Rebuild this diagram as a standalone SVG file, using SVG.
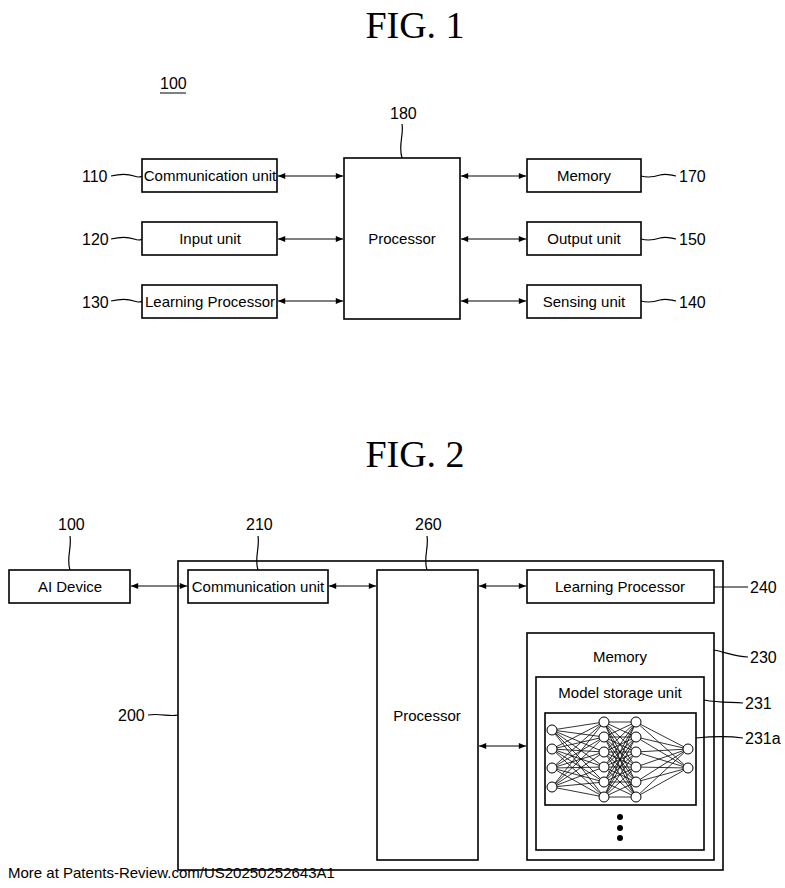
<svg xmlns="http://www.w3.org/2000/svg" width="785" height="888" viewBox="0 0 785 888">
<style>
.b{fill:#fff;stroke:#000;stroke-width:1.6}
.t{font-family:"Liberation Sans",sans-serif;font-size:15px;text-anchor:middle;fill:#000}
.n{font-family:"Liberation Sans",sans-serif;font-size:16px;fill:#000}
.f{font-family:"Liberation Serif",serif;font-size:38px;text-anchor:middle}
.c{fill:none;stroke:#000;stroke-width:1.2}
.a{fill:none;stroke:#000;stroke-width:1.2;marker-start:url(#ah);marker-end:url(#ah)}
.nn{fill:none;stroke:#000;stroke-width:0.8}
.nd{fill:#fff;stroke:#000;stroke-width:1}
</style>
<defs><marker id="ah" viewBox="0 0 10 10" refX="10" refY="5" markerWidth="7" markerHeight="6" orient="auto-start-reverse"><path d="M0,1 L10,5 L0,9 z"/></marker></defs>
<rect width="785" height="888" fill="#fff"/>
<text class="f" x="415" y="38">FIG. 1</text>
<text class="f" x="415" y="467">FIG. 2</text>
<g id="label100a"><text class="n" x="160" y="89">100</text><line x1="160" y1="93" x2="186" y2="93" stroke="#000"/></g>
<g id="n110"><rect class="b" x="142" y="159" width="135" height="33"/><text class="t" x="210" y="181">Communication unit</text><text class="n" x="82" y="182">110</text></g>
<g id="n120"><rect class="b" x="142" y="222" width="135" height="33"/><text class="t" x="210" y="244">Input unit</text><text class="n" x="82" y="245">120</text></g>
<g id="n130"><rect class="b" x="142" y="285" width="135" height="33"/><text class="t" x="210" y="307">Learning Processor</text><text class="n" x="82" y="308">130</text></g>
<g id="n180"><rect class="b" x="344" y="158" width="116" height="161"/><text class="t" x="402" y="244">Processor</text><text class="n" x="390" y="119">180</text></g>
<g id="n170"><rect class="b" x="527" y="159" width="114" height="33"/><text class="t" x="584" y="181">Memory</text><text class="n" x="679" y="182">170</text></g>
<g id="n150"><rect class="b" x="527" y="222" width="114" height="33"/><text class="t" x="584" y="244">Output unit</text><text class="n" x="679" y="245">150</text></g>
<g id="n140"><rect class="b" x="527" y="285" width="114" height="33"/><text class="t" x="584" y="307">Sensing unit</text><text class="n" x="679" y="308">140</text></g>
<g id="f2">
<g id="n100"><rect class="b" x="9" y="570" width="121" height="33"/><text class="t" x="70" y="592">AI Device</text><text class="n" x="58" y="530">100</text></g>
<g id="n200"><rect class="b" x="178" y="561" width="545" height="309"/><text class="n" x="118" y="721">200</text></g>
<g id="n210"><rect class="b" x="188" y="570" width="140" height="33"/><text class="t" x="258" y="592">Communication unit</text><text class="n" x="246" y="530">210</text></g>
<g id="n260"><rect class="b" x="377" y="570" width="101" height="290"/><text class="t" x="427" y="721">Processor</text><text class="n" x="415" y="530">260</text></g>
<g id="n240"><rect class="b" x="527" y="570" width="187" height="33"/><text class="t" x="620" y="592">Learning Processor</text><text class="n" x="750" y="593">240</text></g>
<g id="n230"><rect class="b" x="527" y="633" width="187" height="227"/><text class="t" x="620" y="662">Memory</text><text class="n" x="750" y="663">230</text></g>
<g id="n231"><rect class="b" x="536" y="677" width="168" height="173"/><text class="t" x="620" y="698">Model storage unit</text><text class="n" x="745" y="709">231</text></g>
<g id="n231a"><rect class="b" x="545" y="713" width="151" height="92"/><text class="n" x="745" y="744">231a</text>
<path class="nn" d="M552 730L604 722M552 730L604 737M552 730L604 752M552 730L604 767M552 730L604 782M552 730L604 797M552 749L604 722M552 749L604 737M552 749L604 752M552 749L604 767M552 749L604 782M552 749L604 797M552 768L604 722M552 768L604 737M552 768L604 752M552 768L604 767M552 768L604 782M552 768L604 797M552 787L604 722M552 787L604 737M552 787L604 752M552 787L604 767M552 787L604 782M552 787L604 797M604 722L636 722M604 722L636 737M604 722L636 752M604 722L636 767M604 722L636 782M604 722L636 797M604 737L636 722M604 737L636 737M604 737L636 752M604 737L636 767M604 737L636 782M604 737L636 797M604 752L636 722M604 752L636 737M604 752L636 752M604 752L636 767M604 752L636 782M604 752L636 797M604 767L636 722M604 767L636 737M604 767L636 752M604 767L636 767M604 767L636 782M604 767L636 797M604 782L636 722M604 782L636 737M604 782L636 752M604 782L636 767M604 782L636 782M604 782L636 797M604 797L636 722M604 797L636 737M604 797L636 752M604 797L636 767M604 797L636 782M604 797L636 797M636 722L688 749M636 737L688 749M636 752L688 749M636 767L688 749M636 782L688 749M636 797L688 749M636 722L688 768M636 737L688 768M636 752L688 768M636 767L688 768M636 782L688 768M636 797L688 768"/>
<g class="nd"><circle cx="552" cy="730" r="5"/><circle cx="552" cy="749" r="5"/><circle cx="552" cy="768" r="5"/><circle cx="552" cy="787" r="5"/>
<circle cx="604" cy="722" r="5"/><circle cx="604" cy="737" r="5"/><circle cx="604" cy="752" r="5"/><circle cx="604" cy="767" r="5"/><circle cx="604" cy="782" r="5"/><circle cx="604" cy="797" r="5"/>
<circle cx="636" cy="722" r="5"/><circle cx="636" cy="737" r="5"/><circle cx="636" cy="752" r="5"/><circle cx="636" cy="767" r="5"/><circle cx="636" cy="782" r="5"/><circle cx="636" cy="797" r="5"/>
<circle cx="688" cy="749" r="5"/><circle cx="688" cy="768" r="5"/></g></g>
<g id="dots"><circle cx="620" cy="817" r="3"/><circle cx="620" cy="828" r="3"/><circle cx="620" cy="838" r="3"/></g>
</g>
<g id="connectors">
<line class="a" x1="278" y1="176" x2="343" y2="176"/><line class="a" x1="278" y1="239" x2="343" y2="239"/><line class="a" x1="278" y1="301" x2="343" y2="301"/>
<line class="a" x1="461" y1="176" x2="526" y2="176"/><line class="a" x1="461" y1="239" x2="526" y2="239"/><line class="a" x1="461" y1="301" x2="526" y2="301"/>
<line class="a" x1="131" y1="586" x2="187" y2="586"/><line class="a" x1="329" y1="586" x2="376" y2="586"/><line class="a" x1="479" y1="586" x2="526" y2="586"/><line class="a" x1="479" y1="746" x2="526" y2="746"/>
<path class="c" d="M111 176C120 174 128 174 134 176S140 177 142 176M111 239C120 237 128 237 134 239S140 240 142 239M111 301C120 299 128 299 134 301S140 302 142 301"/>
<path class="c" d="M641 176C648 178 654 177 660 175S670 175 676 176M641 239C648 241 654 240 660 238S670 238 676 239M641 301C648 303 654 302 660 300S670 300 676 301"/>
<path class="c" d="M402 124C404 135 398 145 402 158M70 536C72 548 66 558 70 570M258 536C260 548 254 558 258 570M427 536C429 548 423 558 427 570M148 715C160 713 170 717 178 715M714 587H748M714 650C725 652 735 657 748 657M704 700C720 703 730 702 743 703M696 738C715 736 730 736 743 738"/>
</g>
<text x="8" y="878" font-family="Liberation Sans,sans-serif" font-size="15" fill="#000">More at Patents-Review.com/US20250252643A1</text>
</svg>
